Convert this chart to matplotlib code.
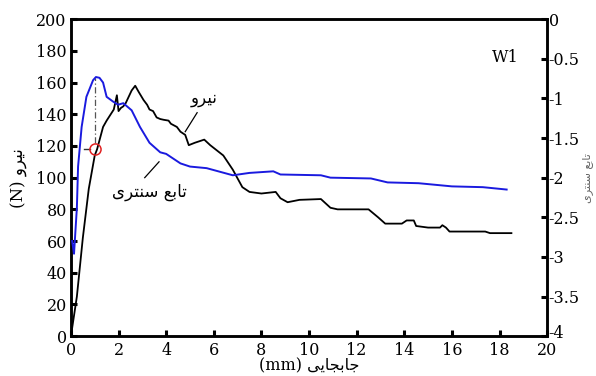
import matplotlib
matplotlib.use("Agg")
import matplotlib.pyplot as plt
import matplotlib.transforms as mtransforms

# Force (N) vs displacement (mm) - left axis
force_x = [0, 0.25, 0.5, 0.75, 1.0, 1.1, 1.35, 1.5, 1.8, 1.93, 2.0, 2.1, 2.2, 2.3, 2.55, 2.7,
           2.85, 3.05, 3.2, 3.3, 3.45, 3.6, 3.75, 3.9, 4.1, 4.2, 4.45, 4.6, 4.8, 4.95, 5.2, 5.6,
           5.85, 6.4, 6.8, 7.2, 7.5, 8.0, 8.6, 8.8, 9.1, 9.6, 10.5, 10.9, 11.2, 12.5, 12.9, 13.2,
           13.9, 14.1, 14.4, 14.5, 15.0, 15.5, 15.6, 15.75, 15.9, 17.4, 17.6, 18.5]
force_y = [0, 25, 62, 93, 114, 118, 132, 136, 143, 152, 142, 144, 145, 147, 155, 158,
           154, 149, 146, 143, 142, 138, 137, 136.5, 136, 134, 132, 129, 127, 120.5, 122, 124,
           120.5, 114, 105, 94, 91, 90, 91, 87, 84.5, 86, 86.5, 81, 80, 80, 75, 71,
           71, 73, 73, 69.5, 68.5, 68.5, 70, 68.5, 66, 66, 65, 65]

# Centrality function - right axis
cent_x = [0.05, 0.1, 0.13, 0.25, 0.3, 0.45, 0.65, 0.93, 1.05, 1.2, 1.35, 1.5, 1.77, 1.98, 2.2,
          2.55, 2.9, 3.3, 3.75, 4.0, 4.6, 5.0, 5.7, 6.8, 7.5, 8.0, 8.5, 8.8, 10.5, 10.9, 12.6,
          13.3, 14.6, 16.0, 17.3, 18.3]
cent_r = [-2.8, -2.9, -2.96, -2.38, -1.86, -1.36, -0.98, -0.77, -0.73, -0.74, -0.8, -0.98,
          -1.04, -1.08, -1.06, -1.15, -1.36, -1.56, -1.68, -1.70, -1.82, -1.86, -1.88, -1.97,
          -1.94, -1.93, -1.92, -1.96, -1.97, -2.0, -2.01, -2.06, -2.07, -2.11, -2.12, -2.15]

x_ticks = [0, 2, 4, 6, 8, 10, 12, 14, 16, 18, 20]
left_ticks = [0, 20, 40, 60, 80, 100, 120, 140, 160, 180, 200]
right_ticks = [0, -0.5, -1, -1.5, -2, -2.5, -3, -3.5, -4]
right_labels = ["0", "-0.5", "-1", "-1.5", "-2", "-2.5", "-3", "-3.5", "-4"]

marker_x = 1.0
marker_y = 118
peak_y = 163

tick_font = "DejaVu Serif"
fa_fam = ["DejaVu Serif", "DejaVu Sans"]

fig = plt.figure(figsize=(5.96, 3.76), dpi=100)
ax = fig.add_axes([0.119, 0.106, 0.799, 0.843])
ax2 = ax.twinx()

ax.plot(force_x, force_y, color="black", lw=1.3, zorder=3)
ax2.plot(cent_x, cent_r, color="#1a1adf", lw=1.4, zorder=3)

# indicator lines and marker
ax.plot([marker_x, marker_x], [marker_y + 4, peak_y], color="#555555", lw=0.9,
        linestyle=(0, (5, 2, 1, 2)), zorder=2)
ax.plot([0.55, marker_x - 0.18], [marker_y, marker_y], color="#333333", lw=1.0, zorder=2)
ax.plot([marker_x], [marker_y], marker="o", ms=8, mfc="none", mec="#e02020", mew=1.1, zorder=4)

ax.set_xlim(0, 20)
ax.set_ylim(0, 200)
ax2.set_ylim(-4, 0)
ax.set_xticks(x_ticks)
ax.set_yticks(left_ticks)
ax2.set_yticks(right_ticks)
ax2.set_yticklabels(right_labels)

for a in (ax, ax2):
    for s in a.spines.values():
        s.set_linewidth(1.8)
    a.tick_params(direction="in", length=4, width=2.2, labelsize=11.5, pad=2)
    for lab in a.get_xticklabels() + a.get_yticklabels():
        lab.set_fontfamily(tick_font)
ax.tick_params(axis="x", pad=4)
ax2.tick_params(axis="y", pad=1)
ax.tick_params(axis="y", pad=3)

# nudge the bottom right-axis label up a little so it sits above the "20"
last = ax2.get_yticklabels()[-1]
last.set_transform(last.get_transform() + mtransforms.ScaledTranslation(0, 3 / 72, fig.dpi_scale_trans))

# annotations
ax.text(18.8, 176, "W1", fontsize=11.5, family=tick_font, ha="right", va="center")
ax.text(5.6, 150, "\uFEED\uFEAE\uFEF4\uFEE7", fontsize=12, family=fa_fam, ha="center", va="center")
ax.plot([4.8, 5.3], [129, 141], color="black", lw=0.9)
ax.text(3.3, 91, "\uFEEF\uFEAE\uFE98\uFEE8\uFEB3 \uFECA\uFE91\uFE8E\uFE97", fontsize=12,
        family=fa_fam, ha="center", va="center")
ax.plot([3.7, 3.1], [110, 100], color="black", lw=0.9)

ax.set_xlabel("(mm) \uFEF0\uFEF3\uFE8E\uFEA0\uFE91\uFE8E\uFE9F", fontsize=11.5, family=fa_fam, labelpad=-1)
ax.set_ylabel("(N) \uFEED\uFEAE\uFEF4\uFEE7", fontsize=12, family=fa_fam, labelpad=6)
ax2.set_ylabel("\uFEEF\uFEAE\uFE98\uFEE8\uFEB3 \uFECA\uFE91\uFE8E\uFE97", fontsize=8,
               family=fa_fam, color="#666666", labelpad=2)

fig.savefig("out.png", dpi=100)
